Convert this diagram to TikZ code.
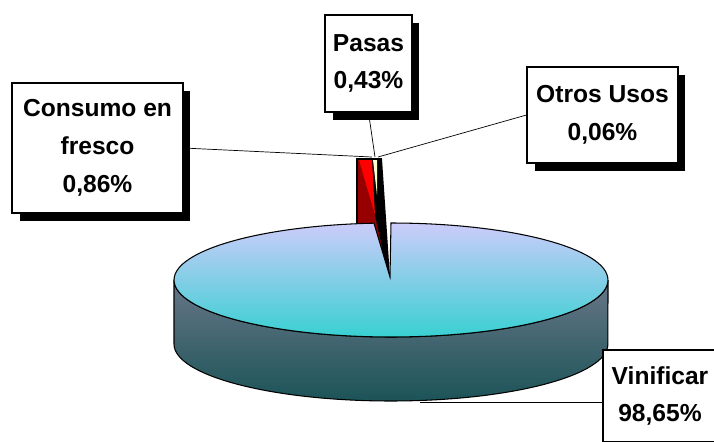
\documentclass[tikz,border=0pt]{standalone}
\usepackage{fontspec}
\setmainfont{Liberation Sans}
\usetikzlibrary{shadows,backgrounds}
\definecolor{pieTop}{RGB}{204,204,250}
\definecolor{pieFront}{RGB}{56,208,210}
\definecolor{sideTop}{RGB}{104,118,136}
\definecolor{sideBot}{RGB}{28,84,88}
\definecolor{darkRed}{RGB}{150,0,0}
\definecolor{paleYel}{RGB}{255,255,204}

\begin{document}
\begin{tikzpicture}[x=0.02cm,y=-0.02cm,line width=0.6pt,
    lbl/.style={draw,fill=white,align=center,inner sep=0pt,
      font=\fontsize{14}{21.5}\selectfont\bfseries,
      drop shadow={shadow xshift=0.15cm,shadow yshift=-0.16cm,fill=black,opacity=1}}]
  \useasboundingbox (0,0) rectangle (714,441);
  \clip (0,0) rectangle (714,441);

  \fill (357,159) -- (382,159) -- (390,277) -- (387,277) -- cycle;
  \fill[darkRed] (357,159) -- (362,159) -- (382,247) -- (357,247) -- cycle;
  \fill[red] (359,160) -- (372,160) -- (375,215) -- cycle;
  \fill[paleYel] (373,160) -- (377,160) -- (377,195) -- cycle;
  \draw (357,223) -- (357,159) -- (382,159);

  \draw[top color=sideTop,bottom color=sideBot] (174,280) -- (174,344)
    arc[start angle=180,end angle=360,x radius=4.34cm,y radius=1.14cm]
    -- (608,280)
    arc[start angle=0,end angle=-180,x radius=4.34cm,y radius=1.14cm] -- cycle;
  \draw[top color=pieTop,bottom color=pieFront] (390,277) -- (391,223)
    arc[start angle=90,end angle=-265.5,x radius=4.34cm,y radius=1.14cm] -- cycle;

  \node[lbl,minimum width=3.42cm,minimum height=2.6cm] (cons) at (97.5,148) {Consumo en\\fresco\\0,86\%};
  \node[lbl,minimum width=1.74cm,minimum height=1.94cm] (pas) at (368.5,63.5) {Pasas\\0,43\%};
  \node[lbl,minimum width=3.02cm,minimum height=1.92cm] (otr) at (602.5,115) {Otros Usos\\0,06\%};
  \node[lbl,minimum width=2.28cm,minimum height=1.84cm] (vin) at (660,396) {Vinificar\\98,65\%};

  \coordinate (consEnd) at (372,157);
  \coordinate (pasEnd) at (375,157);
  \coordinate (otrEnd) at (378,157);
  \coordinate (vinEnd) at (420,402);

  \begin{scope}[on background layer]
    \draw (cons.east) -- (consEnd);
    \draw (pas.south) -- (pasEnd);
    \draw (otr.west) -- (otrEnd);
    \draw (vinEnd -| vin.west) -- (vinEnd);
  \end{scope}
\end{tikzpicture}
\end{document}
